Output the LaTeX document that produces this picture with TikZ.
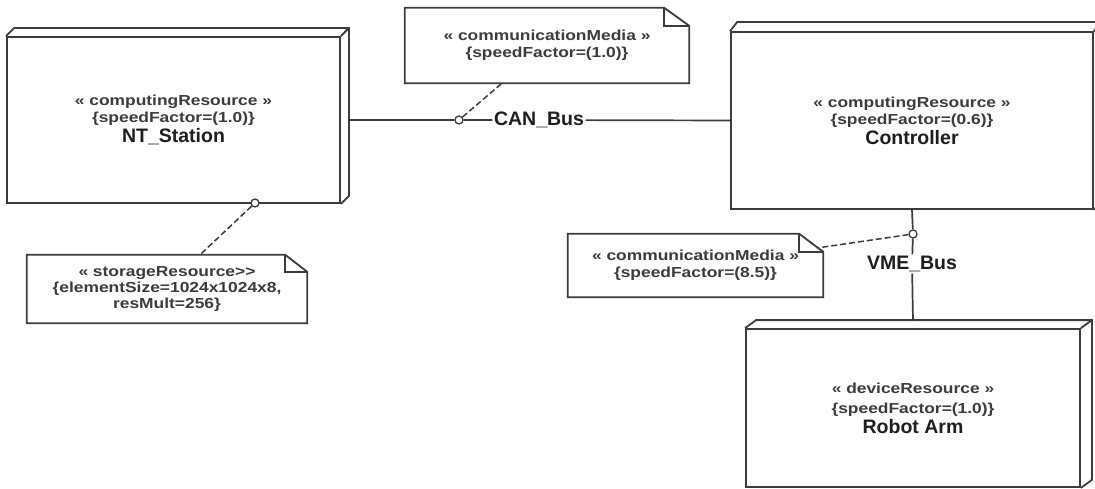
\documentclass[tikz,border=0pt]{standalone}
\usepackage{fontspec}
\setmainfont{Liberation Sans}
\newfontfamily\stfont[FakeStretch=1.2]{Liberation Sans}
\newfontfamily\nmfam{Liberation Sans}
\usetikzlibrary{calc,backgrounds}
\definecolor{lineg}{RGB}{60,60,60}
\definecolor{sttext}{RGB}{60,60,60}
\definecolor{nmtext}{RGB}{30,30,30}
\newcommand{\nm}{\nmfam\fontsize{19.5}{20}\selectfont\bfseries\color{nmtext}}
\begin{document}
\begin{tikzpicture}[x=1pt,y=-1pt,
  font=\stfont\bfseries\fontsize{14.5}{17}\selectfont,
  node3d/.style={draw=lineg, line width=1.8pt, fill=white, rectangle, inner sep=0pt, align=center, text=sttext},
  notebox/.style={rectangle, inner sep=0pt, align=center, text=sttext},
  outline/.style={draw=lineg, line width=1.8pt, line join=miter},
  edge/.style={draw=lineg, line width=1.7pt},
  anchorline/.style={draw=lineg, line width=1.5pt, dash pattern=on 6pt off 3pt},
  port/.style={circle, draw=lineg, fill=white, line width=1.3pt, minimum size=8pt, inner sep=0pt},
  buslabel/.style={fill=white, inner sep=1.5pt, text=nmtext, font=\nm}
]
\useasboundingbox (0,0) rectangle (1095,489);
\clip (0,0) rectangle (1095,489);

% ---------- nodes (front faces) ----------
\node[node3d, minimum width=333pt, minimum height=166pt] (nt) at (173.5,120)
  {« computingResource »\\\{speedFactor=(1.0)\}\\[2pt]{\nm NT\_Station}};
\node[node3d, minimum width=362pt, minimum height=177pt] (ctl) at (912,120.5)
  {« computingResource »\\\{speedFactor=(0.6)\}\\[2pt]{\nm Controller}};
\node[node3d, minimum width=334pt, minimum height=158pt] (arm) at (913,408)
  {« deviceResource »\\[3pt]\{speedFactor=(1.0)\}\\[2pt]{\nm Robot Arm}};

% 3D faces
\draw[outline] (nt.north west) -- ++(8,-8) -- ($(nt.north east)+(8,-8)$) -- ($(nt.south east)+(8,-8)$) -- (nt.south east);
\draw[outline] (nt.north east) -- ++(8,-8);
\draw[outline] (ctl.north west) -- ++(7,-9) -- ($(ctl.north east)+(7,-9)$) -- ($(ctl.south east)+(7,-9)$) -- (ctl.south east);
\draw[outline] (ctl.north east) -- ++(7,-9);
\draw[outline] (arm.north west) -- ++(11,-8) -- ($(arm.north east)+(11,-8)$) -- ($(arm.south east)+(11,-8)$) -- (arm.south east);
\draw[outline] (arm.north east) -- ++(11,-8);

% ---------- notes ----------
\node[notebox, minimum width=284pt, minimum height=75pt] (n1) at (547,45.5)
  {« communicationMedia »\\\{speedFactor=(1.0)\}};
\node[notebox, minimum width=280pt, minimum height=68pt] (st) at (167,289)
  {« storageResource>>\\[-1pt]\{elementSize=1024x1024x8,\\[-1pt]resMult=256\}};
\node[notebox, minimum width=255pt, minimum height=63pt] (n2) at (695.5,265.5)
  {« communicationMedia »\\\{speedFactor=(8.5)\}};

\begin{scope}[on background layer]
  \foreach \n/\fx/\fy in {n1/25/18, st/22/17, n2/24/18}{
    \draw[outline, fill=white] (\n.north west) -- ([xshift=-\fx pt]\n.north east) -- ([yshift=-\fy pt]\n.north east) -- (\n.south east) -- (\n.south west) -- cycle;
    \draw[outline] ([xshift=-\fx pt]\n.north east) |- ([yshift=-\fy pt]\n.north east);
  }
\end{scope}

% ---------- ports and labels ----------
\coordinate (ntr) at (348,120);
\coordinate (armtop) at (913,321);
\node[port] (p1) at (459,120) {};
\node[buslabel] (can) at (539,120) {CAN\_Bus};
\node[port] (p2) at (913,234) {};
\node[buslabel] (vme) at (912,264) {VME\_Bus};
\node[port] (p3) at (255,203) {};

% ---------- connectors ----------
\begin{scope}[on background layer]
  \draw[edge] (ntr) -- (p1) -- (can) -- (ctl.west);
  \draw[edge] (ctl.south) -- (p2) -- (vme) -- (armtop);
  \draw[anchorline] (p1) -- ([xshift=-45pt]n1.south);
  \draw[anchorline] (p3) -- ([xshift=33pt]st.north);
  \draw[anchorline] (p2) -- ([xshift=-5pt,yshift=-14pt]n2.north east);
\end{scope}
\end{tikzpicture}
\end{document}
